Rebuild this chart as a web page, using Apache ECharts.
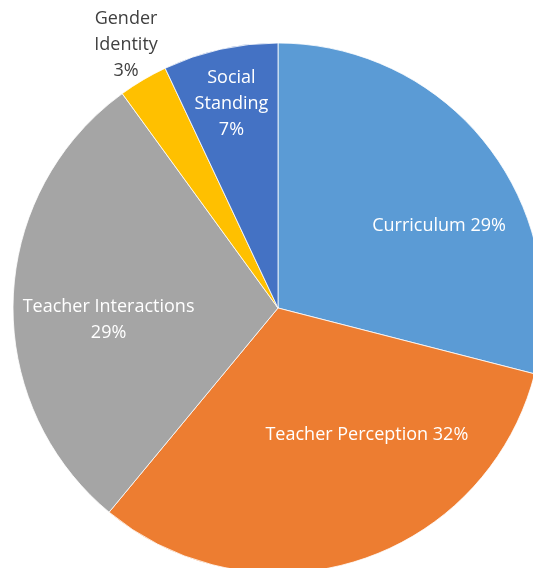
<!DOCTYPE html>
<html>
<head>
<meta charset="utf-8">
<script src="https://cdn.jsdelivr.net/npm/echarts@6/dist/echarts.min.js"></script>
<style>
    html, body { margin: 0; padding: 0; background: #fff; }
    #pie { width: 533px; height: 568px; }
</style>
</head>
<body>
<div id="pie"></div>
<script>
    var categories = ['Curriculum', 'Teacher Perception', 'Teacher Interactions', 'Gender Identity', 'Social Standing'];
    var values = [29, 32, 29, 3, 7];
    // how each label is broken in the picture
    var labelNames = ['Curriculum ', 'Teacher Perception ', 'Teacher Interactions\n', 'Gender\nIdentity\n', 'Social\nStanding\n'];
    var colors = ['#5B9BD5', '#ED7D31', '#A5A5A5', '#FFC000', '#4472C4'];

    // nudges from the default inside label spot
    var labelShift = [[54, 1], [47, -2], [-34, 16], [-83, -146], [-17, -72]];

    var chart = echarts.init(document.getElementById('pie'));

    var data = [];
    for (var i = 0; i < categories.length; i++) {
        data.push({
            name: categories[i],
            value: values[i],
            itemStyle: { color: colors[i] },
            label: i === 3 ? { color: '#404040' } : {}
        });
    }

    var option = {
        animation: false,
        series: [{
            type: 'pie',
            center: [278, 308],
            radius: [0, 265],
            startAngle: 90,
            clockwise: true,
            avoidLabelOverlap: false,
            itemStyle: {
                borderColor: '#ffffff',
                borderWidth: 0.8
            },
            label: {
                show: true,
                position: 'inside',
                color: '#ffffff',
                fontFamily: 'Open Sans',
                fontSize: 18,
                lineHeight: 26,
                align: 'center',
                formatter: function(p) {
                    return labelNames[p.dataIndex] + p.value + '%';
                }
            },
            labelLine: { show: false },
            emphasis: { disabled: true },
            labelLayout: function(p) {
                return { dx: labelShift[p.dataIndex][0], dy: labelShift[p.dataIndex][1] };
            },
            data: data
        }]
    };

    chart.setOption(option);
</script>
</body>
</html>
